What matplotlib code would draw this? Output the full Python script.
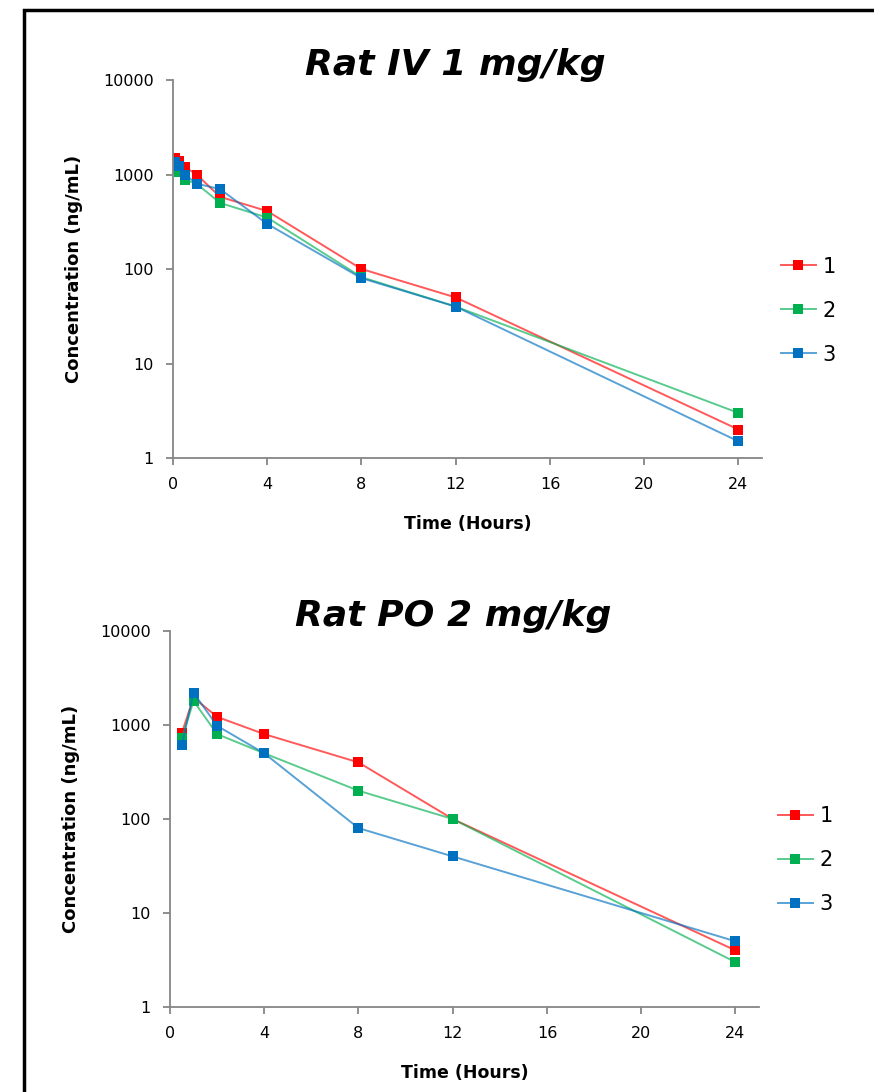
import numpy as np
import matplotlib.pyplot as plt
from matplotlib.patches import Rectangle
from matplotlib.colors import to_rgba
from matplotlib.ticker import FixedLocator, NullLocator

# dados
iv_tempo = [0.083, 0.25, 0.5, 1, 2, 4, 8, 12, 24]
iv_rato1 = [1500, 1400, 1200, 1000, 580, 410, 100, 50, 2]
iv_rato2 = [1150, 1050, 880, 800, 500, 350, 82, 40, 3]
iv_rato3 = [1370, 1230, 1000, 800, 700, 300, 80, 40, 1.5]

po_tempo = [0.5, 1, 2, 4, 8, 12, 24]
po_rato1 = [820, 1950, 1220, 800, 400, 100, 4]
po_rato2 = [720, 1800, 800, 500, 200, 100, 3]
po_rato3 = [610, 2200, 980, 500, 80, 40, 5]

nomes = ['1', '2', '3']
cores = ['#FF0000', '#00B050', '#0070C0']
x_ticks = [0, 4, 8, 12, 16, 20, 24]
y_ticks = [1, 10, 100, 1000, 10000]

fig = plt.figure(figsize=(8.74, 10.92), dpi=100)

# moldura preta
fig.add_artist(Rectangle((24 / 874, -0.1), 1.2, 1 - 10 / 1092 + 0.1,
                         transform=fig.transFigure, fill=False,
                         edgecolor='black', linewidth=2.5))


def desenha(ax, tempo, series, titulo):
    for vals, cor, nome in zip(series, cores, nomes):
        # linha mais clara, marcador opaco
        ax.plot(tempo, vals, color=to_rgba(cor, 0.65), linewidth=1.4,
                marker='s', markersize=7.5, markerfacecolor=cor,
                markeredgecolor=cor, markeredgewidth=0, label=nome)
    ax.set_yscale('log')
    ax.set_ylim(1, 10000)
    ax.set_xlim(0, 25)
    ax.xaxis.set_major_locator(FixedLocator(x_ticks))
    ax.yaxis.set_major_locator(FixedLocator(y_ticks))
    ax.yaxis.set_minor_locator(NullLocator())
    ax.set_yticklabels([str(v) for v in y_ticks])
    ax.set_xticklabels([str(v) for v in x_ticks])
    for s in ['top', 'right']:
        ax.spines[s].set_visible(False)
    for s in ['left', 'bottom']:
        ax.spines[s].set_color('#868686')
        ax.spines[s].set_linewidth(1.3)
    ax.tick_params(axis='both', direction='out', length=5, color='#868686',
                   width=1.3, labelsize=11.5, pad=9)
    ax.set_xlabel('Time (Hours)', fontsize=12.5, fontweight='bold', labelpad=16)
    ax.set_ylabel('Concentration (ng/mL)', fontsize=13, fontweight='bold', labelpad=14)
    ax.set_title(titulo, fontsize=26, fontweight='bold', style='italic',
                 x=0.48, y=0.99)
    ax.legend(loc='center left', bbox_to_anchor=(1.0, 0.39), frameon=False,
              fontsize=15, handlelength=1.7, handletextpad=0.3, labelspacing=1.15)


ax1 = fig.add_axes([173 / 874, 1 - 458 / 1092, 589 / 874, 378 / 1092])
desenha(ax1, iv_tempo, [iv_rato1, iv_rato2, iv_rato3], 'Rat IV 1 mg/kg')

ax2 = fig.add_axes([170 / 874, 1 - 1007 / 1092, 589 / 874, 376 / 1092])
desenha(ax2, po_tempo, [po_rato1, po_rato2, po_rato3], 'Rat PO 2 mg/kg')

plt.savefig('out.png', dpi=100)
